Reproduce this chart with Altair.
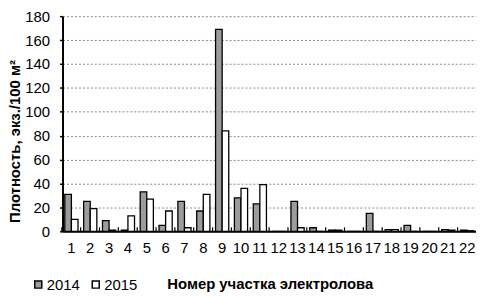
import altair as alt
import pandas as pd

sites = [str(i) for i in range(1, 23)]
v2014 = [31, 25, 9, 1, 33, 5, 25, 17, 169, 28, 23, 0, 25, 3, 1, 0, 15, 1.5, 5, 0, 1.5, 1]
v2015 = [10, 19, 1, 13, 27, 17, 3, 31, 84, 36, 39, 0, 3, 0, 1, 0, 0, 1.5, 0, 0, 1, 0.5]
years = ["2014", "2015"]
y_ticks = [0, 20, 40, 60, 80, 100, 120, 140, 160, 180]

rows = []
for s, a, b in zip(sites, v2014, v2015):
    rows.append({"site": s, "year": years[0], "value": a})
    rows.append({"site": s, "year": years[1], "value": b})
df = pd.DataFrame(rows)
ticks_df = pd.DataFrame({"site": sites})

FONT = "Liberation Sans"

xscale = alt.Scale(domain=sites, paddingInner=0.3, paddingOuter=0.12)

bars = alt.Chart(df).mark_bar(stroke="black", strokeWidth=1.3).encode(
    x=alt.X("site:N", scale=xscale, sort=sites,
            axis=alt.Axis(title="Номер участка электролова", labelAngle=0,
                          labelFontSize=15, labelPadding=9, ticks=False,
                          labelOverlap=False,
                          domainColor="black", domainWidth=2,
                          titleFontSize=15, titleFontWeight="bold",
                          titleX=209, titleY=46, titleColor="black",
                          labelColor="black", grid=False)),
    xOffset=alt.XOffset("year:N", sort=years),
    y=alt.Y("value:Q", scale=alt.Scale(domain=[0, 180], nice=False),
            axis=alt.Axis(title="Плотность, экз./100 м²", values=y_ticks,
                          labelFontSize=15, labelPadding=10, tickSize=3,
                          labelOverlap=False,
                          tickColor="black", tickWidth=1.5,
                          domainColor="black", domainWidth=2,
                          grid=True,
                          gridColor="#888888", gridDash=[2, 2], gridWidth=1,
                          titleFontSize=15, titleFontWeight="bold",
                          titleX=-40, titleY=126, titleColor="black",
                          labelColor="black")),
    fill=alt.Fill("year:N", sort=years,
                  scale=alt.Scale(domain=years, range=["#9c9c9c", "#ffffff"]),
                  legend=alt.Legend(title=None, orient="none", direction="horizontal",
                                    legendX=-32, legendY=263, symbolType="square",
                                    symbolSize=50, symbolStrokeColor="black",
                                    symbolStrokeWidth=1.5, labelFontSize=15,
                                    labelOffset=1, columnPadding=8, padding=0,
                                    labelColor="black")),
)

boundary = alt.Chart(ticks_df).mark_rule(color="black", strokeWidth=1.2, xOffset=-3).encode(
    x=alt.X("site:N", scale=xscale, sort=sites, bandPosition=0),
    y=alt.value(217),
    y2=alt.value(213),
)

chart = alt.layer(bars, boundary).properties(
    width=417, height=217,
    autosize=alt.AutoSizeParams(type="none"),
    padding={"left": 55, "top": 7, "right": 0, "bottom": 65},
).configure(font=FONT).configure_view(stroke=None).configure_axisX(grid=False)

chart.save("out.html", embed_options={"renderer": "svg", "actions": False})
